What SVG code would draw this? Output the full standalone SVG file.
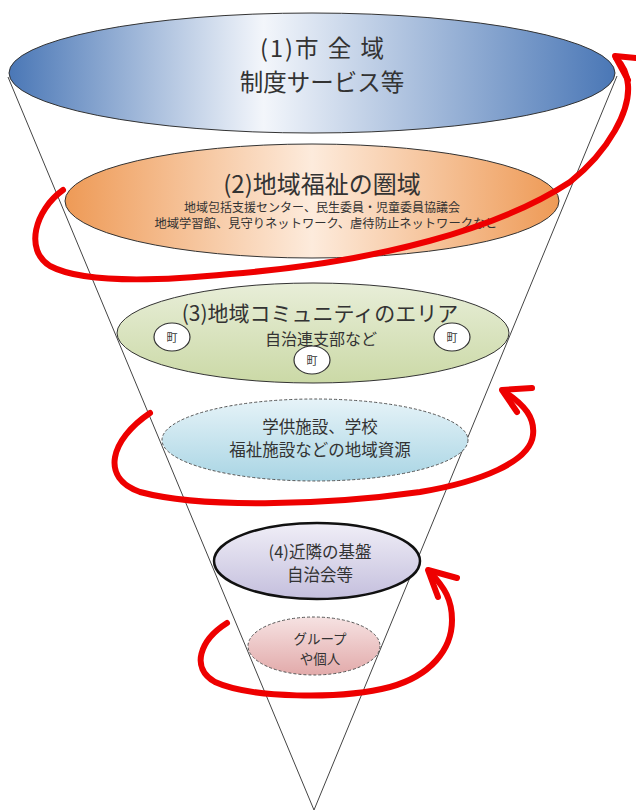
<svg xmlns="http://www.w3.org/2000/svg" width="636" height="812" viewBox="0 0 636 812">
<style>
text{font-family:"Noto Sans CJK JP","Noto Sans CJK SC",sans-serif;fill:#333;text-anchor:middle;dominant-baseline:central}
.cone{stroke:#444;stroke-width:1;fill:none}
.ell{stroke:#333;stroke-width:1}
.dash{stroke:#555;stroke-width:1;stroke-dasharray:3 2}
.red{stroke:#ee0000;stroke-width:6;fill:none;stroke-linecap:round;stroke-linejoin:round}
.cho{fill:#fff;stroke:#333;stroke-width:1.2}
</style>
<defs>
<linearGradient id="gBlue" x1="0" x2="1" y1="0" y2="0">
<stop offset="0" stop-color="#4a77b6"/><stop offset="0.42" stop-color="#f3f6fb"/><stop offset="1" stop-color="#4a77b6"/>
</linearGradient>
<linearGradient id="gOrange" x1="0" x2="1" y1="0" y2="0">
<stop offset="0" stop-color="#ee9a56"/><stop offset="0.5" stop-color="#fdebdc"/><stop offset="1" stop-color="#ee9a56"/>
</linearGradient>
<linearGradient id="gGreen" x1="0" x2="0" y1="0" y2="1">
<stop offset="0" stop-color="#e8eed8"/><stop offset="1" stop-color="#cbd9a6"/>
</linearGradient>
<linearGradient id="gLBlue" x1="0" x2="0" y1="0" y2="1">
<stop offset="0" stop-color="#e6f3f8"/><stop offset="1" stop-color="#a9d5e4"/>
</linearGradient>
<linearGradient id="gPurple" x1="0" x2="0" y1="0" y2="1">
<stop offset="0" stop-color="#f0eef7"/><stop offset="1" stop-color="#c4bfdd"/>
</linearGradient>
<linearGradient id="gPink" x1="0" x2="0" y1="0" y2="1">
<stop offset="0" stop-color="#f6e2e2"/><stop offset="1" stop-color="#e2aaaa"/>
</linearGradient>
</defs>
<rect width="636" height="812" fill="#fff"/>
<g id="cone">
<line class="cone" x1="8" y1="77" x2="314" y2="810"/>
<line class="cone" x1="617" y1="76" x2="314" y2="810"/>
</g>
<g id="node1">
<ellipse class="ell" cx="312" cy="73" rx="303" ry="60" fill="url(#gBlue)"/>
<text x="323" y="47" font-size="23.5" letter-spacing="2" xml:space="preserve">(1)市 全 域</text>
<text x="322" y="81" font-size="23.5">制度サービス等</text>
</g>
<g id="node2">
<ellipse class="ell" cx="312" cy="201" rx="247" ry="57" fill="url(#gOrange)"/>
<text x="322" y="182" font-size="24">(2)地域福祉の圏域</text>
<text x="322" y="206.5" font-size="12">地域包括支援センター、民生委員・児童委員協議会</text>
<text x="326" y="223" font-size="12.3">地域学習館、見守りネットワーク、虐待防止ネットワークなど</text>
</g>
<g id="node3">
<ellipse class="ell" cx="313" cy="333" rx="196" ry="50" fill="url(#gGreen)"/>
<text x="320" y="312" font-size="21">(3)地域コミュニティのエリア</text>
<text x="321" y="338" font-size="16">自治連支部など</text>
</g>
<g id="town1"><ellipse class="cho" cx="172" cy="337" rx="18" ry="14"/><text x="172" y="337" font-size="11">町</text></g>
<g id="town2"><ellipse class="cho" cx="452" cy="337" rx="18" ry="14"/><text x="452" y="337" font-size="11">町</text></g>
<g id="town3"><ellipse class="cho" cx="312" cy="360" rx="18" ry="14"/><text x="312" y="360" font-size="11">町</text></g>
<g id="node4">
<ellipse class="dash" cx="315" cy="440" rx="153" ry="41" fill="url(#gLBlue)"/>
<text x="320" y="426" font-size="16.5">学供施設、学校</text>
<text x="320" y="449" font-size="16.5">福祉施設などの地域資源</text>
</g>
<g id="node5">
<ellipse cx="317" cy="561" rx="103" ry="38" fill="url(#gPurple)" stroke="#111" stroke-width="2.5"/>
<text x="320" y="551" font-size="16.5">(4)近隣の基盤</text>
<text x="320" y="574" font-size="16.5">自治会等</text>
</g>
<g id="node6">
<ellipse class="dash" cx="314" cy="646" rx="66" ry="29" fill="url(#gPink)"/>
<text x="320" y="638" font-size="13.5">グループ</text>
<text x="320" y="658" font-size="13.5">や個人</text>
</g>
<g id="connectors">
<path class="red" d="M63,190 C35,210 24,250 50,266 C80,282 150,282 230,274 C380,262 500,228 570,182 C610,150 630,110 628,85 C627,72 622,64 616,58"/>
<path class="red" d="M636,58 L615,56 L628,80"/>
<path class="red" d="M150,413 C110,440 100,478 140,492 C200,508 320,506 420,492 C480,482 530,462 533,435 C535,418 525,405 505,392"/>
<path class="red" d="M532,388 L502,390 L517,412"/>
<path class="red" d="M227,623 C200,640 190,668 215,682 C250,698 340,700 390,687 C430,676 452,650 452,620 C452,600 445,588 430,572"/>
<path class="red" d="M457,578 L428,570 L438,597"/>
</g>
</svg>
